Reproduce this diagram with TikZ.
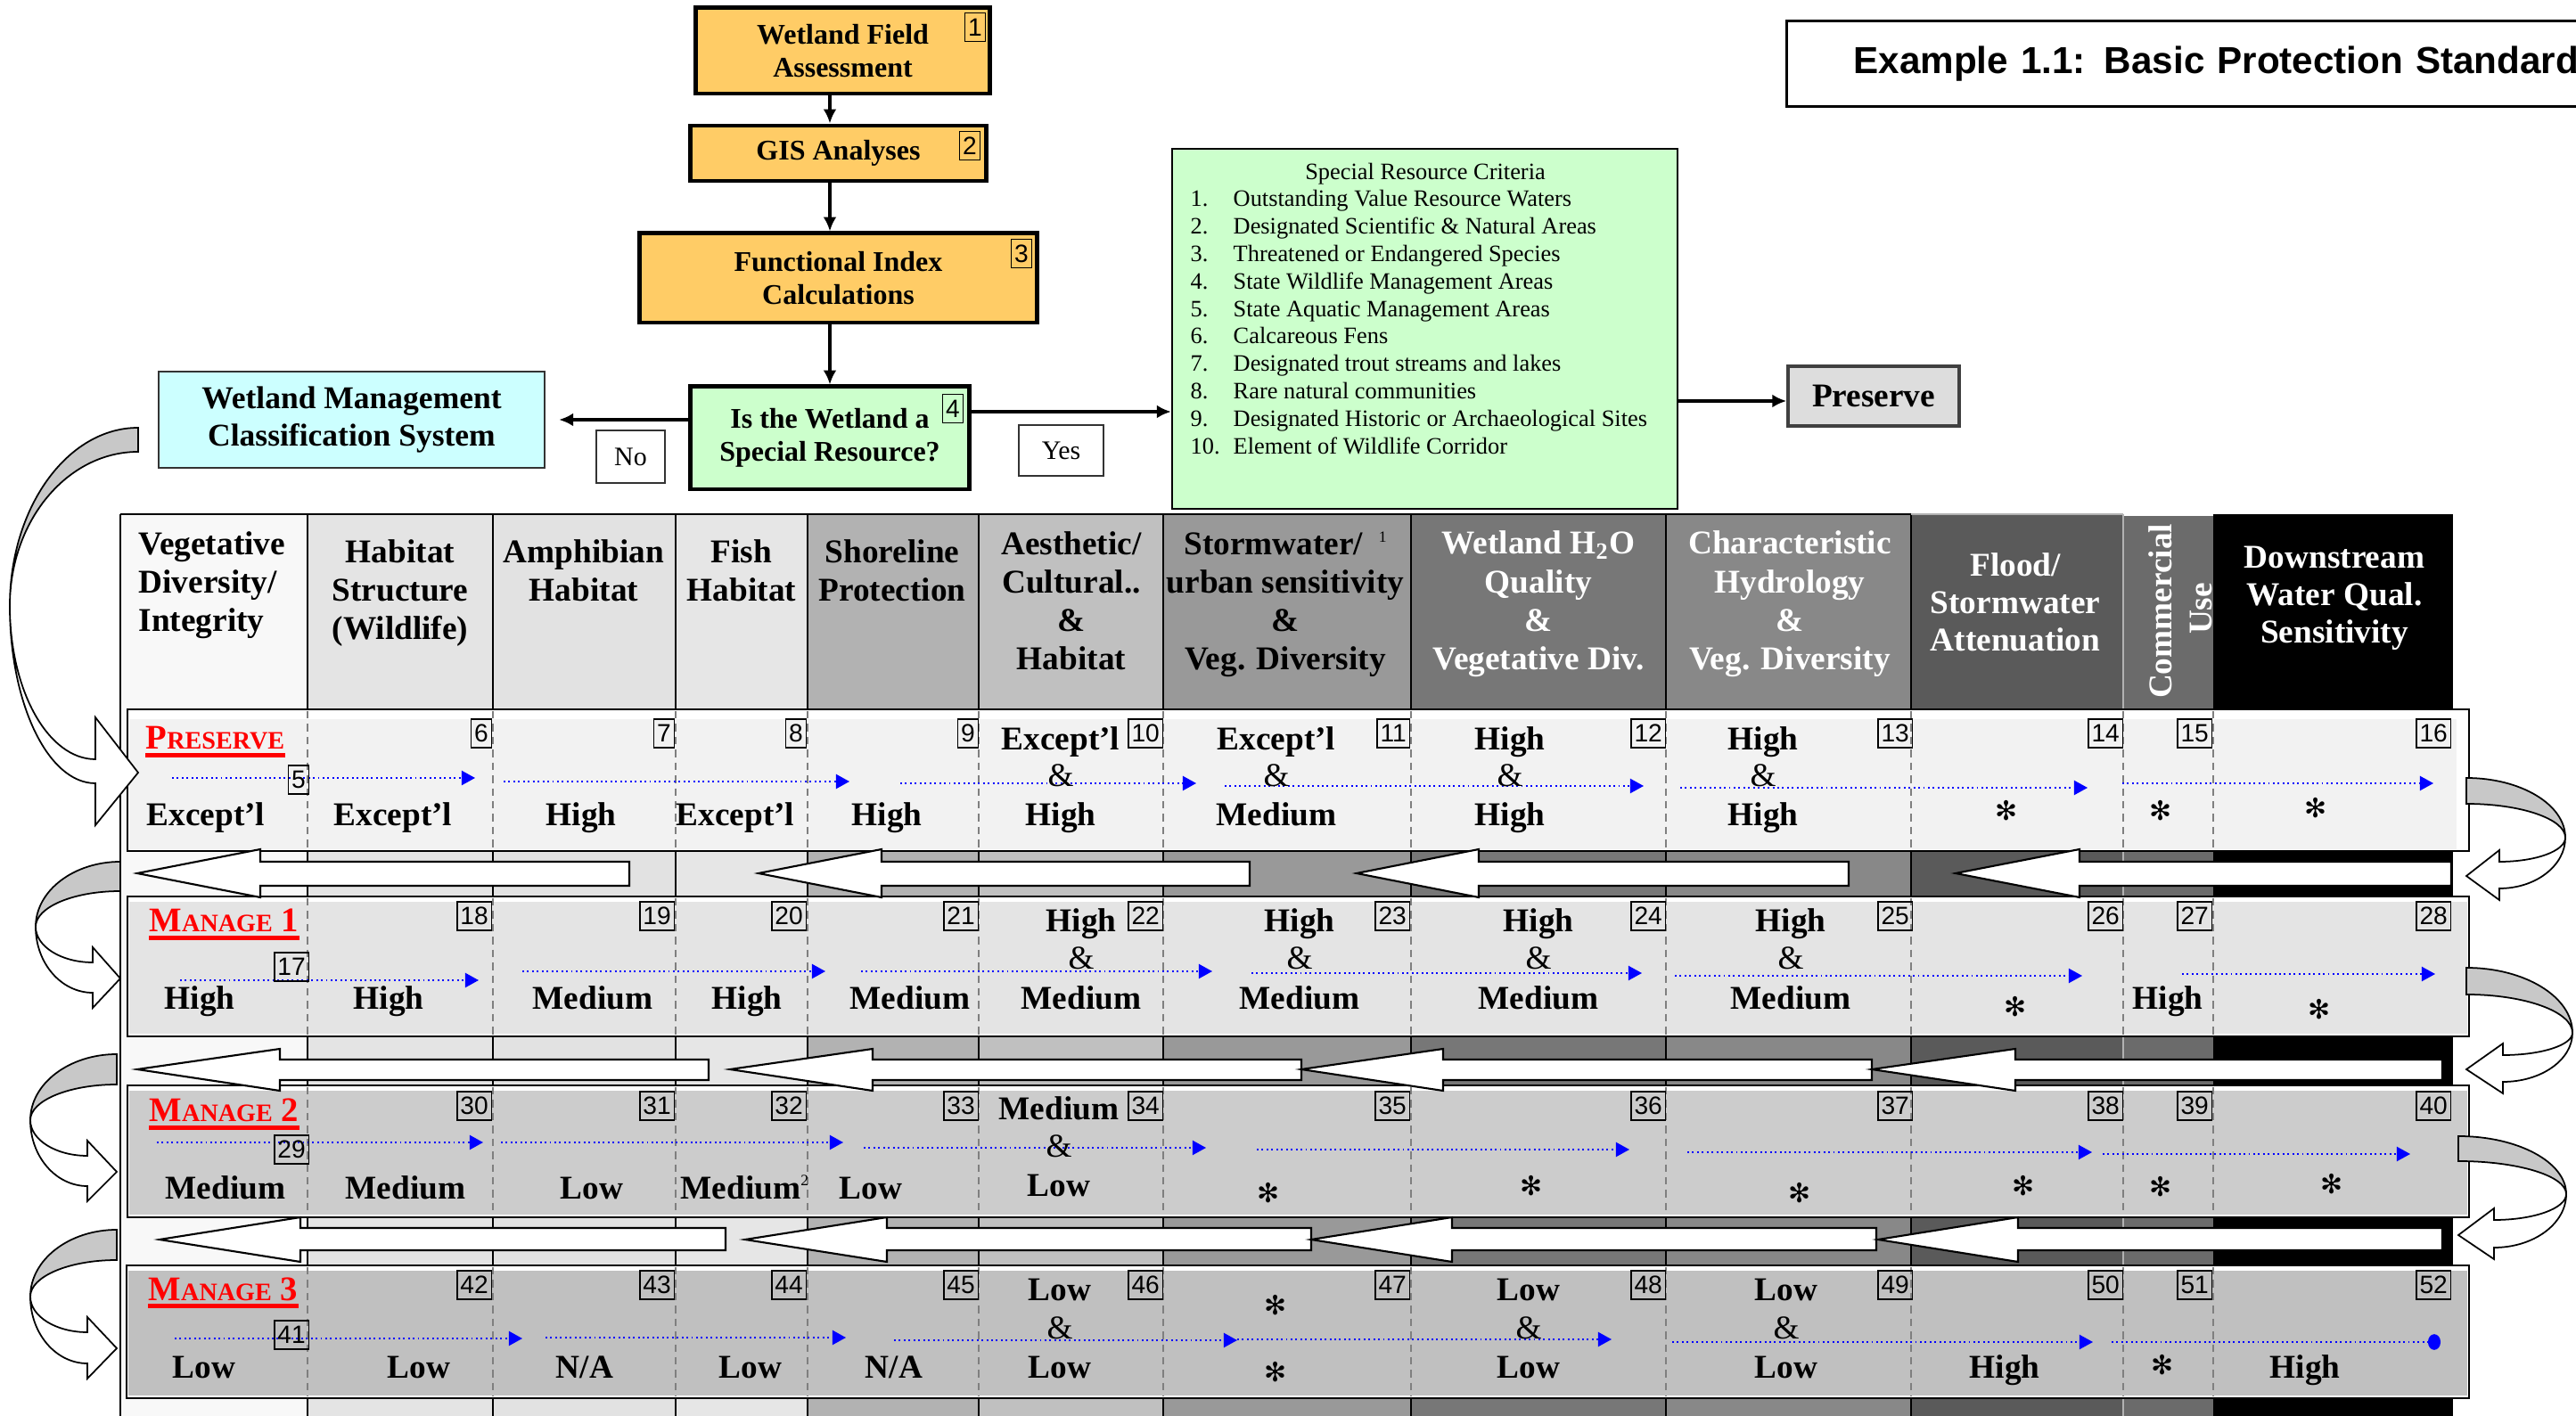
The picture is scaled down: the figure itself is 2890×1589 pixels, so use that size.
\documentclass[tikz,border=0pt]{standalone}
\usepackage{fontspec}
\setmainfont{Liberation Serif}
\setsansfont{Liberation Sans}
\newfontfamily\starfont{DejaVu Sans}
\usetikzlibrary{arrows.meta}

\definecolor{cOrange}{HTML}{FFCC66}
\definecolor{cGreen}{HTML}{CCFFCC}
\definecolor{cCyan}{HTML}{CCFFFF}
\definecolor{cPres}{HTML}{DDDDDD}
\definecolor{kA}{HTML}{F8F8F8}
\definecolor{kB}{HTML}{E4E4E4}
\definecolor{kC}{HTML}{E2E2E2}
\definecolor{kD}{HTML}{E6E6E6}
\definecolor{kE}{HTML}{B2B2B2}
\definecolor{kF}{HTML}{C0C0C0}
\definecolor{kG}{HTML}{999999}
\definecolor{kH}{HTML}{777777}
\definecolor{kI}{HTML}{888888}
\definecolor{kJ}{HTML}{5A5A5A}
\definecolor{kK}{HTML}{6B6B6B}
\definecolor{kL}{HTML}{000000}
\definecolor{rP}{HTML}{F2F2F2}
\definecolor{rMa}{HTML}{E4E4E4}
\definecolor{rMb}{HTML}{CCCCCC}
\definecolor{rMc}{HTML}{C0C0C0}
\definecolor{curveback}{HTML}{C8C8C8}
\definecolor{dashgray}{HTML}{7F7F7F}

\newcount\autonodecount
\newcommand\rfont{\fontsize{10.6pt}{12.2pt}\selectfont\bfseries}
\newcommand\smc{\fontsize{8pt}{9pt}\selectfont}

\tikzset{
  autoname/.code={\global\advance\autonodecount by 1\relax\tikzset{name=an\the\autonodecount}},
  hdr/.style={autoname, inner sep=0pt, anchor=base, font=\rfont},
  hdrl/.style={hdr, anchor=base west},
  hdrw/.style={hdr, text=white},
  rating/.style={autoname, inner sep=0pt, anchor=base, font=\rfont},
  amp/.style={autoname, inner sep=0pt, anchor=base, font=\fontsize{10.6pt}{12pt}\selectfont},
  astx/.style={autoname, inner sep=0pt, font=\starfont\fontsize{8.5pt}{9pt}\selectfont},
  numbox/.style={autoname, draw=black, line width=0.4pt, inner xsep=1pt, inner ysep=0pt,
    minimum height=3.2mm, font=\sffamily\fontsize{8pt}{9pt}\selectfont, anchor=east},
  bluearr/.style={draw=blue, line width=0.55pt, densely dotted, -{Triangle[length=4.3pt,width=4.6pt]}},
  blueend/.style={draw=blue, line width=0.55pt, densely dotted, -{Ellipse[length=4pt,width=5pt]}},
  flowbox/.style={draw=black, line width=1.4pt, align=center, inner sep=0pt,
    font=\fontsize{9.1pt}{10.5pt}\selectfont\bfseries},
  flowarr/.style={line width=1.2pt, -{Latex[length=4.5pt,width=4.2pt]}},
  redlbl/.style={anchor=base west, inner sep=0pt, text=red, font=\fontsize{11pt}{12pt}\selectfont\bfseries},
  rowline/.style={draw=black, line width=0.6pt},
  sepdash/.style={draw=dashgray, line width=0.45pt, dash pattern=on 2.4pt off 1.7pt},
  colline/.style={draw=black, line width=0.8pt},
  blockarr/.style={fill=white, draw=black, line width=0.6pt},
  crit/.style={autoname, inner sep=0pt, anchor=base west, font=\fontsize{7.5pt}{8.7pt}\selectfont},
}

% header lines: style, x, first baseline, step, list
\newcommand\hlines[5]{%
  \foreach \ln [count=\i from 0] in {#5} {\node[#1] at (#2,{#3+\i*#4}) {\ln};}}
% single rating
\newcommand\rt[3]{\node[rating] at (#1,#2) {#3};}
% triple rating: x, y1, y2, y3, top, bottom
\newcommand\rtt[6]{\node[rating] at (#1,#2) {#5}; \node[amp] at (#1,#3) {\&}; \node[rating] at (#1,#4) {#6};}
\newcommand\st[2]{\node[astx] at (#1,#2) {✻};}
% block arrow: tipx, basex, endx, tipy, headtop, headbot, shafttop, shaftbot
\newcommand\blockarrow[8]{\filldraw[blockarr] (#1,#4) -- (#2,#5) -- (#2,#7) -- (#3,#7) -- (#3,#8) -- (#2,#8) -- (#2,#6) -- cycle;}
% bent arrow: xR, yA, t, xL, yM, xB, yE1, yE2, tipy ; head offset \hoff
\newcommand\bendarrow[9]{%
  \filldraw[fill=curveback, draw=black, line width=0.5pt]
    (#1,#2) .. controls ({#1-0.552*(#1-#4)},#2) and (#4,{#5-0.552*(#5-#2)}) .. (#4,#5)
    .. controls (#4,{#5-0.552*(#5-#2-#3)}) and ({#1-0.552*(#1-#4)},{#2+#3}) .. (#1,{#2+#3}) -- cycle;
  \filldraw[fill=white, draw=black, line width=0.5pt]
    (#4,#5) .. controls (#4,{#5+0.552*(#7-#5)}) and ({#6-0.552*(#6-#4)},#7) .. (#6,#7)
    -- (#6,{#7-\hoff}) -- (#1,#9) -- (#6,{#8+\hoff}) -- (#6,#8)
    .. controls ({#6-0.552*(#6-#4)},#8) and (#4,{#5+0.552*(#8-#5)}) .. (#4,#5) -- cycle;}

\begin{document}
\begin{tikzpicture}[x=0.01cm, y=-0.01cm]
\useasboundingbox[fill=white] (0,0) rectangle (2890,1589);

% ---------- table columns ----------
\fill[kA] (135,577) rectangle (345,1589);
\fill[kB] (345,577) rectangle (553,1589);
\fill[kC] (553,577) rectangle (758,1589);
\fill[kD] (758,577) rectangle (906,1589);
\fill[kE] (906,577) rectangle (1098,1589);
\fill[kF] (1098,577) rectangle (1305,1589);
\fill[kG] (1305,577) rectangle (1583,1589);
\fill[kH] (1583,577) rectangle (1869,1589);
\fill[kI] (1869,577) rectangle (2144,1589);
\fill[kJ] (2144,577) rectangle (2382,1589);
\fill[kK] (2382,579) rectangle (2483,1589);
\fill[kL] (2483,577) rectangle (2752,1589);
\foreach \xx in {135,345,553,758,906,1098,1305,1583,1869,2144}
  {\draw[colline] (\xx,577) -- (\xx,1589);}
\draw[draw=gray!60, line width=0.5pt] (2382,577) -- (2382,1589);
\draw[colline] (135,577) -- (2144,577);
\draw[draw=gray!60, line width=0.8pt] (2144,577) -- (2382,577);

% ---------- header texts ----------
\hlines{hdrl}{155}{623}{43}{Vegetative,Diversity/,Integrity}
\hlines{hdr}{449}{632}{43}{Habitat,Structure,(Wildlife)}
\hlines{hdr}{655}{632}{43}{Amphibian,Habitat}
\hlines{hdr}{832}{632}{43}{Fish,Habitat}
\hlines{hdr}{1001}{632}{43}{Shoreline,Protection}
\hlines{hdr}{1202}{623}{43}{Aesthetic/,Cultural..,\&,Habitat}
\hlines{hdr}{1442}{623}{43}{{Stormwater/\hspace{5pt}\raisebox{4pt}{\fontsize{5pt}{6pt}\selectfont\mdseries 1}},urban sensitivity,\&,Veg. Diversity}
\hlines{hdrw}{1726}{622}{43.3}{{Wetland H\textsubscript{2}O},Quality,\&,Vegetative Div.}
\hlines{hdrw}{2008}{622}{43.3}{Characteristic,Hydrology,\&,Veg. Diversity}
\hlines{hdrw}{2261}{647}{42}{Flood/,Stormwater,Attenuation}
\hlines{hdrw}{2619}{638}{42}{Downstream,Water Qual.,Sensitivity}
\node[hdrw, anchor=center, rotate=90] (hcomm) at (2424,686) {Commercial};
\node[hdrw, anchor=center, rotate=90] (huse) at (2469,683) {Use};

% ---------- row panels ----------
\filldraw[rowline, fill=white] (143,796) rectangle (2770,955);
\fill[rP] (145,807) rectangle (2756,953);
\filldraw[rowline, fill=white] (143,1006) rectangle (2770,1163);
\fill[rMa] (145,1012) rectangle (2768,1160);
\filldraw[rowline, fill=white] (143,1218) rectangle (2770,1366);
\fill[rMb] (145,1224) rectangle (2768,1363);
\filldraw[rowline, fill=white] (142,1420) rectangle (2770,1569);
\fill[rMc] (144,1426) rectangle (2768,1566);

\foreach \xx in {345,553,758,906,1098,1305,1583,1869,2144,2382,2483}{
  \draw[sepdash] (\xx,798) -- (\xx,953);
  \draw[sepdash] (\xx,1008) -- (\xx,1161);
  \draw[sepdash] (\xx,1220) -- (\xx,1364);
  \draw[sepdash] (\xx,1422) -- (\xx,1567);
}

% ---------- row labels ----------
\node[redlbl] (lblP) at (163,841) {P{\smc RESERVE}};
\draw[red, line width=1.3pt] ([yshift=-1.8pt]lblP.base west) -- ([yshift=-1.8pt]lblP.base east);
\node[redlbl] (lblA) at (167,1046) {M{\smc ANAGE} 1};
\draw[red, line width=1.3pt] ([yshift=-1.8pt]lblA.base west) -- ([yshift=-1.8pt]lblA.base east);
\node[redlbl] (lblB) at (167,1259) {M{\smc ANAGE} 2};
\draw[red, line width=1.3pt] ([yshift=-1.8pt]lblB.base west) -- ([yshift=-1.8pt]lblB.base east);
\node[redlbl] (lblC) at (166,1459) {M{\smc ANAGE} 3};
\draw[red, line width=1.3pt] ([yshift=-1.8pt]lblC.base west) -- ([yshift=-1.8pt]lblC.base east);

% ---------- blue arrows ----------
\draw[bluearr] (193,873) -- (533,873);
\draw[bluearr] (565,877) -- (953,877);
\draw[bluearr] (1010,879) -- (1342,879);
\draw[bluearr] (1374,882) -- (1844,882);
\draw[bluearr] (1885,884) -- (2342,884);
\draw[bluearr] (2381,879) -- (2730,879);

\draw[bluearr] (202,1100) -- (537,1100);
\draw[bluearr] (586,1090) -- (926,1090);
\draw[bluearr] (966,1090) -- (1360,1090);
\draw[bluearr] (1404,1092) -- (1842,1092);
\draw[bluearr] (1879,1095) -- (2336,1095);
\draw[bluearr] (2448,1093) -- (2732,1093);

\draw[bluearr] (176,1282) -- (542,1282);
\draw[bluearr] (562,1282) -- (946,1282);
\draw[bluearr] (969,1288) -- (1353,1288);
\draw[bluearr] (1410,1290) -- (1828,1290);
\draw[bluearr] (1893,1293) -- (2347,1293);
\draw[bluearr] (2359,1295) -- (2704,1295);

\draw[bluearr] (196,1502) -- (586,1502);
\draw[bluearr] (612,1501) -- (949,1501);
\draw[bluearr] (1003,1504) -- (1388,1504);
\draw[bluearr] (1388,1503) -- (1808,1503);
\draw[bluearr] (1876,1506) -- (2348,1506);
\draw[blueend] (2369,1506) -- (2738,1506);

% ---------- number boxes ----------
\foreach \xx [count=\i] in {552,757,905,1098,1305,1582,1869,2146,2382,2482,2750} {
  \pgfmathtruncatemacro\nP{\i+5}
  \node[numbox] at (\xx,823) {\nP};
  \pgfmathtruncatemacro\nA{\i+17}
  \node[numbox] at (\xx,1028) {\nA};
  \pgfmathtruncatemacro\nB{\i+29}
  \node[numbox] at (\xx,1241) {\nB};
  \pgfmathtruncatemacro\nC{\i+41}
  \node[numbox] at (\xx,1442) {\nC};
}
\node[numbox] at (347,875) {5};
\node[numbox] at (347,1085) {17};
\node[numbox] at (347,1290) {29};
\node[numbox] at (347,1498) {41};

% ---------- ratings: Preserve ----------
\rt{231}{927}{Except’l}
\rt{441}{927}{Except’l}
\rt{652}{927}{High}
\rt{825}{927}{Except’l}
\rt{995}{927}{High}
\rtt{1190}{842}{883}{927}{Except’l}{High}
\rtt{1432}{842}{883}{927}{Except’l}{Medium}
\rtt{1694}{842}{883}{927}{High}{High}
\rtt{1978}{842}{883}{927}{High}{High}
\st{2251}{910}
\st{2424}{910}
\st{2598}{907}

% ---------- ratings: Manage 1 ----------
\rt{224}{1133}{High}
\rt{436}{1133}{High}
\rt{665}{1133}{Medium}
\rt{838}{1133}{High}
\rt{1021}{1133}{Medium}
\rtt{1213}{1046}{1088}{1133}{High}{Medium}
\rtt{1458}{1046}{1088}{1133}{High}{Medium}
\rtt{1726}{1046}{1088}{1133}{High}{Medium}
\rtt{2009}{1046}{1088}{1133}{High}{Medium}
\st{2261}{1130}
\rt{2432}{1133}{High}
\st{2602}{1133}

% ---------- ratings: Manage 2 ----------
\rt{253}{1345}{Medium}
\rt{455}{1345}{Medium}
\rt{664}{1345}{Low}
\node[rating, anchor=base west] at (763,1345) {Medium\raisebox{4pt}{\fontsize{5pt}{6pt}\selectfont\mdseries 2}};
\rt{977}{1345}{Low}
\rtt{1188}{1257}{1299}{1343}{Medium}{Low}
\st{1423}{1339}
\st{1718}{1331}
\st{2019}{1339}
\st{2270}{1331}
\st{2424}{1332}
\st{2616}{1329}

% ---------- ratings: Manage 3 ----------
\rt{229}{1546}{Low}
\rt{470}{1546}{Low}
\rt{656}{1546}{N/A}
\rt{842}{1546}{Low}
\rt{1003}{1546}{N/A}
\rtt{1189}{1459}{1502}{1546}{Low}{Low}
\st{1431}{1465}
\st{1431}{1540}
\rtt{1715}{1459}{1502}{1546}{Low}{Low}
\rtt{2004}{1459}{1502}{1546}{Low}{Low}
\rt{2249}{1546}{High}
\st{2426}{1532}
\rt{2586}{1546}{High}

% ---------- block arrows in gaps ----------
\blockarrow{154}{292}{706}{980}{953}{1007}{967}{994}
\blockarrow{851}{989}{1402}{980}{953}{1007}{967}{994}
\blockarrow{1522}{1659}{2074}{980}{953}{1007}{967}{994}
\blockarrow{2194}{2333}{2750}{980}{953}{1007}{967}{994}

\blockarrow{154}{314}{795}{1200}{1177}{1224}{1189}{1212}
\blockarrow{819}{979}{1460}{1200}{1177}{1224}{1189}{1212}
\blockarrow{1460}{1619}{2100}{1200}{1177}{1224}{1189}{1212}
\blockarrow{2100}{2261}{2740}{1200}{1177}{1224}{1189}{1212}

\blockarrow{179}{337}{814}{1391}{1366}{1416}{1378}{1403}
\blockarrow{836}{995}{1471}{1391}{1366}{1416}{1378}{1403}
\blockarrow{1471}{1629}{2105}{1391}{1366}{1416}{1378}{1403}
\blockarrow{2107}{2264}{2740}{1391}{1366}{1416}{1378}{1403}

% ---------- bent arrows ----------
\def\hoff{47}
\bendarrow{155}{480}{27}{11}{680}{107}{852}{879}{867}
\def\hoff{17}
\bendarrow{135}{967}{33}{40}{1040}{104}{1080}{1114}{1098}
\bendarrow{131}{1183}{34}{34}{1257}{98}{1297}{1331}{1315}
\bendarrow{131}{1380}{34}{34}{1455}{98}{1495}{1530}{1513}
\def\hoff{13}
\bendarrow{2767}{873}{29}{2878}{940}{2804}{967}{997}{983}
\bendarrow{2767}{1086}{30}{2886}{1159}{2808}{1184}{1214}{1200}
\bendarrow{2758}{1275}{28}{2879}{1340}{2798}{1369}{1400}{1386}

% ---------- flowchart ----------
\node[flowbox, fill=cOrange, minimum width=32.9mm, minimum height=9.6mm] (b1) at (945.5,57) {Wetland Field\\Assessment};
\node[flowbox, fill=cOrange, minimum width=33.1mm, minimum height=6.2mm] (b2) at (940.5,172) {GIS Analyses};
\node[flowbox, fill=cOrange, minimum width=44.5mm, minimum height=10mm] (b3) at (940.5,312) {Functional Index\\Calculations};
\node[flowbox, fill=cGreen, minimum width=31.2mm, minimum height=11.5mm] (b4) at (931,491.5) {Is the Wetland a\\Special Resource?};
\node[draw=black!80, line width=0.6pt, fill=cCyan, align=center, inner sep=0pt,
  minimum width=43.3mm, minimum height=10.8mm,
  font=\fontsize{10.1pt}{12.2pt}\selectfont\bfseries] (cyan) at (394.5,471) {Wetland Management\\Classification System};
\node[draw=black!80, line width=0.5pt, inner sep=0pt, minimum width=7.7mm, minimum height=5.9mm,
  font=\fontsize{8.5pt}{10pt}\selectfont] (nobox) at (707.5,512.5) {No};
\node[draw=black!80, line width=0.5pt, inner sep=0pt, minimum width=9.5mm, minimum height=5.7mm,
  font=\fontsize{8.5pt}{10pt}\selectfont] (yesbox) at (1190.5,505.5) {Yes};
\node[draw=black, line width=0.6pt, fill=cGreen, inner sep=0pt, minimum width=56.7mm, minimum height=40.4mm] (crit) at (1598.5,369) {};
\node[draw=black!75, line width=1pt, fill=cPres, inner sep=0pt, minimum width=19.2mm, minimum height=6.7mm,
  font=\fontsize{10.6pt}{12pt}\selectfont\bfseries] (prs) at (2102,444.5) {Preserve};

\node[numbox, anchor=north east] (n1) at (1106,14) {1};
\node[numbox, anchor=north east] (n2) at (1100,147) {2};
\node[numbox, anchor=north east] (n3) at (1158,268) {3};
\node[numbox, anchor=north east] (n4) at (1081,442) {4};

\draw[flowarr] (b1.south -| b4.north) -- (b2.north -| b4.north);
\draw[flowarr] (b2.south -| b4.north) -- (b3.north -| b4.north);
\draw[flowarr] (b3.south -| b4.north) -- (b4.north);
\draw[flowarr] (b4.west |- cyan.east) -- ([xshift=1.5mm]cyan.east);
\coordinate (yesy) at (0,462);
\draw[flowarr] (b4.east |- yesy) -- (crit.west |- yesy);
\coordinate (prsy) at (0,450);
\draw[flowarr] (crit.east |- prsy) -- (prs.west |- prsy);

% criteria text
\node[crit, anchor=base] at (1599,202) {Special Resource Criteria};
\foreach \num/\item [count=\i from 0] in {1./Outstanding Value Resource Waters,
  2./Designated Scientific \& Natural Areas,
  3./Threatened or Endangered Species,
  4./State Wildlife Management Areas,
  5./State Aquatic Management Areas,
  6./Calcareous Fens,
  7./Designated trout streams and lakes,
  8./Rare natural communities,
  9./Designated Historic or Archaeological Sites,
  10./Element of Wildlife Corridor} {
  \node[crit] at (1335,{232+\i*30.8}) {\num};
  \node[crit] at (1383,{232+\i*30.8}) {\item};
}

% title
\node[draw=black, line width=0.8pt, anchor=north west, minimum height=9.6mm, text width=86mm,
  inner xsep=7.5mm, inner ysep=0pt, align=left,
  font=\sffamily\fontsize{12pt}{14pt}\selectfont\bfseries] (title) at (2003,22) {Example 1.1: Basic Protection Standard};
\end{tikzpicture}
\end{document}
